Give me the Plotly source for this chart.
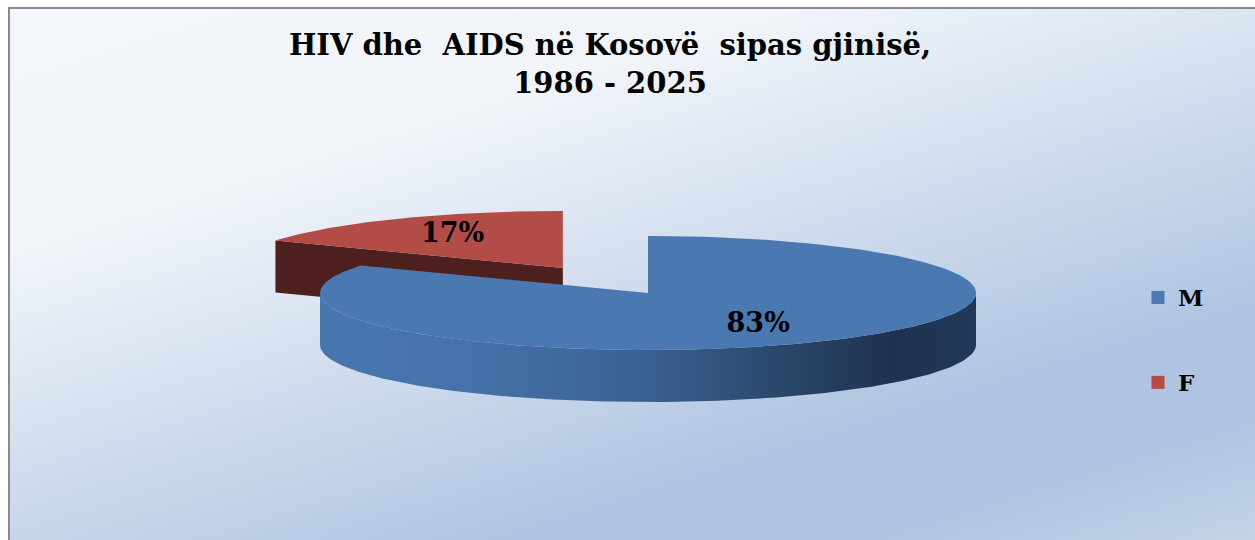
import base64
import struct
import zlib

import numpy as np
import plotly.graph_objects as go

# ---- data -------------------------------------------------------------
labels = ["M", "F"]
values = [83, 17]
explode = [0.0, 0.51]
top_colors = ["#4a79b2", "#b34b47"]
side_colors = ["#2a4769", "#4e1f1f"]
wall_scale = [
    [0.0, "#4877b0"],
    [0.25, "#4571a8"],
    [0.5, "#3a6090"],
    [0.72, "#294567"],
    [0.87, "#1f3350"],
    [1.0, "#22385a"],
]
title_text = "HIV dhe \u00a0AIDS në Kosovë \u00a0sipas gjinisë,<br>1986 - 2025"

# ---- page / pie geometry (pixel space) --------------------------------
W, H = 1255, 540
CX, CY = 648, 293          # centre of the pie's top ellipse
RX, RY = 328, 57           # ellipse radii (tilted disc)
DEPTH = 52                 # thickness of the disc
LABEL_R = 0.66


def png_uri(rgb):
    h, w, _ = rgb.shape
    raw = b"".join(b"\x00" + rgb[i].tobytes() for i in range(h))

    def chunk(tag, data):
        return (struct.pack(">I", len(data)) + tag + data
                + struct.pack(">I", zlib.crc32(tag + data) & 0xFFFFFFFF))

    png = (b"\x89PNG\r\n\x1a\n"
           + chunk(b"IHDR", struct.pack(">IIBBBBB", w, h, 8, 2, 0, 0, 0))
           + chunk(b"IDAT", zlib.compress(raw, 9))
           + chunk(b"IEND", b""))
    return "data:image/png;base64," + base64.b64encode(png).decode()


def hex_rgb(h):
    h = h.lstrip("#")
    return [int(h[i:i + 2], 16) for i in (0, 2, 4)]


# diagonal chart-area gradient
BX0, BY0 = 10, 9
bw, bh = W - BX0, H - BY0
gx, gy = np.meshgrid(np.arange(BX0, W) + 0.5, np.arange(BY0, H) + 0.5)
t = 0.42 * gx / W + 0.58 * gy / H
stops = [(0.0, "#f4f7fb"), (0.28, "#f1f5fa"), (0.76, "#afc4e1"),
         (0.86, "#afc4e1"), (1.0, "#c4d4e8")]
sp = [s[0] for s in stops]
rgb = np.zeros((bh, bw, 3))
for c in range(3):
    rgb[..., c] = np.interp(t, sp, [hex_rgb(s[1])[c] for s in stops])
bg_uri = png_uri(np.clip(rgb, 0, 255).astype(np.uint8))


def ell(cx, cy, th, r=1.0):
    return cx + RX * r * np.sin(th), cy - RY * r * np.cos(th)


fig = go.Figure()

total = float(sum(values))
bounds = np.concatenate([[0.0], np.cumsum(values) / total]) * 2 * np.pi
slices = []
for i, v in enumerate(values):
    th0, th1 = bounds[i], bounds[i + 1]
    mid = 0.5 * (th0 + th1)
    ocx, ocy = ell(CX, CY, mid, explode[i])
    slices.append((i, th0, th1, mid, ocx, ocy))

# draw back slices first
for i, th0, th1, mid, ocx, ocy in sorted(slices, key=lambda s: s[5]):
    # radial cut faces that turn toward the viewer
    for phi, psi in ((th0, th0 - np.pi / 2), (th1, th1 + np.pi / 2)):
        if np.cos(psi) < -1e-6:
            ex, ey = ell(ocx, ocy, phi)
            fig.add_trace(go.Scatter(
                x=[ocx, ex, ex, ocx, ocx], y=[ocy, ey, ey + DEPTH, ocy + DEPTH, ocy],
                fill="toself", fillcolor=side_colors[i], mode="lines",
                line=dict(width=0, color=side_colors[i]),
                hoverinfo="skip", showlegend=False))
    # front outer wall
    a0, a1 = max(th0, np.pi / 2), min(th1, 3 * np.pi / 2)
    if a0 < a1:
        th = np.linspace(a0, a1, 200)
        tx, ty = ell(ocx, ocy, th)
        xs = np.concatenate([tx, tx[::-1], tx[:1]])
        ys = np.concatenate([ty, ty[::-1] + DEPTH, ty[:1]])
        fig.add_trace(go.Scatter(
            x=xs, y=ys, fill="toself", mode="lines",
            fillgradient=dict(type="horizontal", colorscale=wall_scale),
            line=dict(width=0), hoverinfo="skip", showlegend=False))
    # top face
    th = np.linspace(th0, th1, 300)
    tx, ty = ell(ocx, ocy, th)
    fig.add_trace(go.Scatter(
        x=np.concatenate([[ocx], tx, [ocx]]), y=np.concatenate([[ocy], ty, [ocy]]),
        fill="toself", fillcolor=top_colors[i], mode="lines",
        line=dict(width=0, color=top_colors[i]),
        hoverinfo="skip", showlegend=False))

# percentage labels
lx, ly, lt = [], [], []
for i, th0, th1, mid, ocx, ocy in slices:
    px, py = ell(ocx, ocy, mid, LABEL_R)
    lx.append(px)
    ly.append(py)
    lt.append(f"{round(100 * values[i] / total)}%")
fig.add_trace(go.Scatter(
    x=lx, y=ly, text=lt, mode="text", textposition="middle center",
    textfont=dict(family="DejaVu Serif", size=27, color="#000000", weight="bold"),
    hoverinfo="skip", showlegend=False))

# legend entries
for i, name in enumerate(labels):
    fig.add_trace(go.Scatter(
        x=[None], y=[None], mode="markers", name=name, legendgroup=name,
        marker=dict(symbol="square", size=13, color=top_colors[i])))

fig.update_layout(
    width=W, height=H,
    margin=dict(l=0, r=0, t=0, b=0),
    paper_bgcolor="#ffffff",
    plot_bgcolor="rgba(0,0,0,0)",
    xaxis=dict(range=[0, W], visible=False, fixedrange=True),
    yaxis=dict(range=[H, 0], visible=False, fixedrange=True),
    title=dict(
        text=title_text, x=610 / W, xanchor="center", y=1 - 55 / H, yanchor="middle",
        font=dict(family="DejaVu Serif", size=29, color="#000000", weight="bold")),
    legend=dict(
        x=1138 / W, y=1 - 276 / H, xanchor="left", yanchor="top",
        bgcolor="rgba(0,0,0,0)", traceorder="grouped", tracegroupgap=52,
        itemwidth=30,
        font=dict(family="DejaVu Serif", size=23, color="#000000", weight="bold")),
    images=[dict(
        source=bg_uri, xref="paper", yref="paper",
        x=BX0 / W, y=1 - BY0 / H, sizex=bw / W, sizey=bh / H,
        xanchor="left", yanchor="top", sizing="stretch", layer="below")],
    shapes=[dict(
        type="rect", xref="paper", yref="paper",
        x0=9 / W, x1=1.01, y0=-0.02, y1=1 - 8 / H,
        line=dict(color="#8a8a8a", width=2), layer="above")],
)

fig.write_html("out.html")
